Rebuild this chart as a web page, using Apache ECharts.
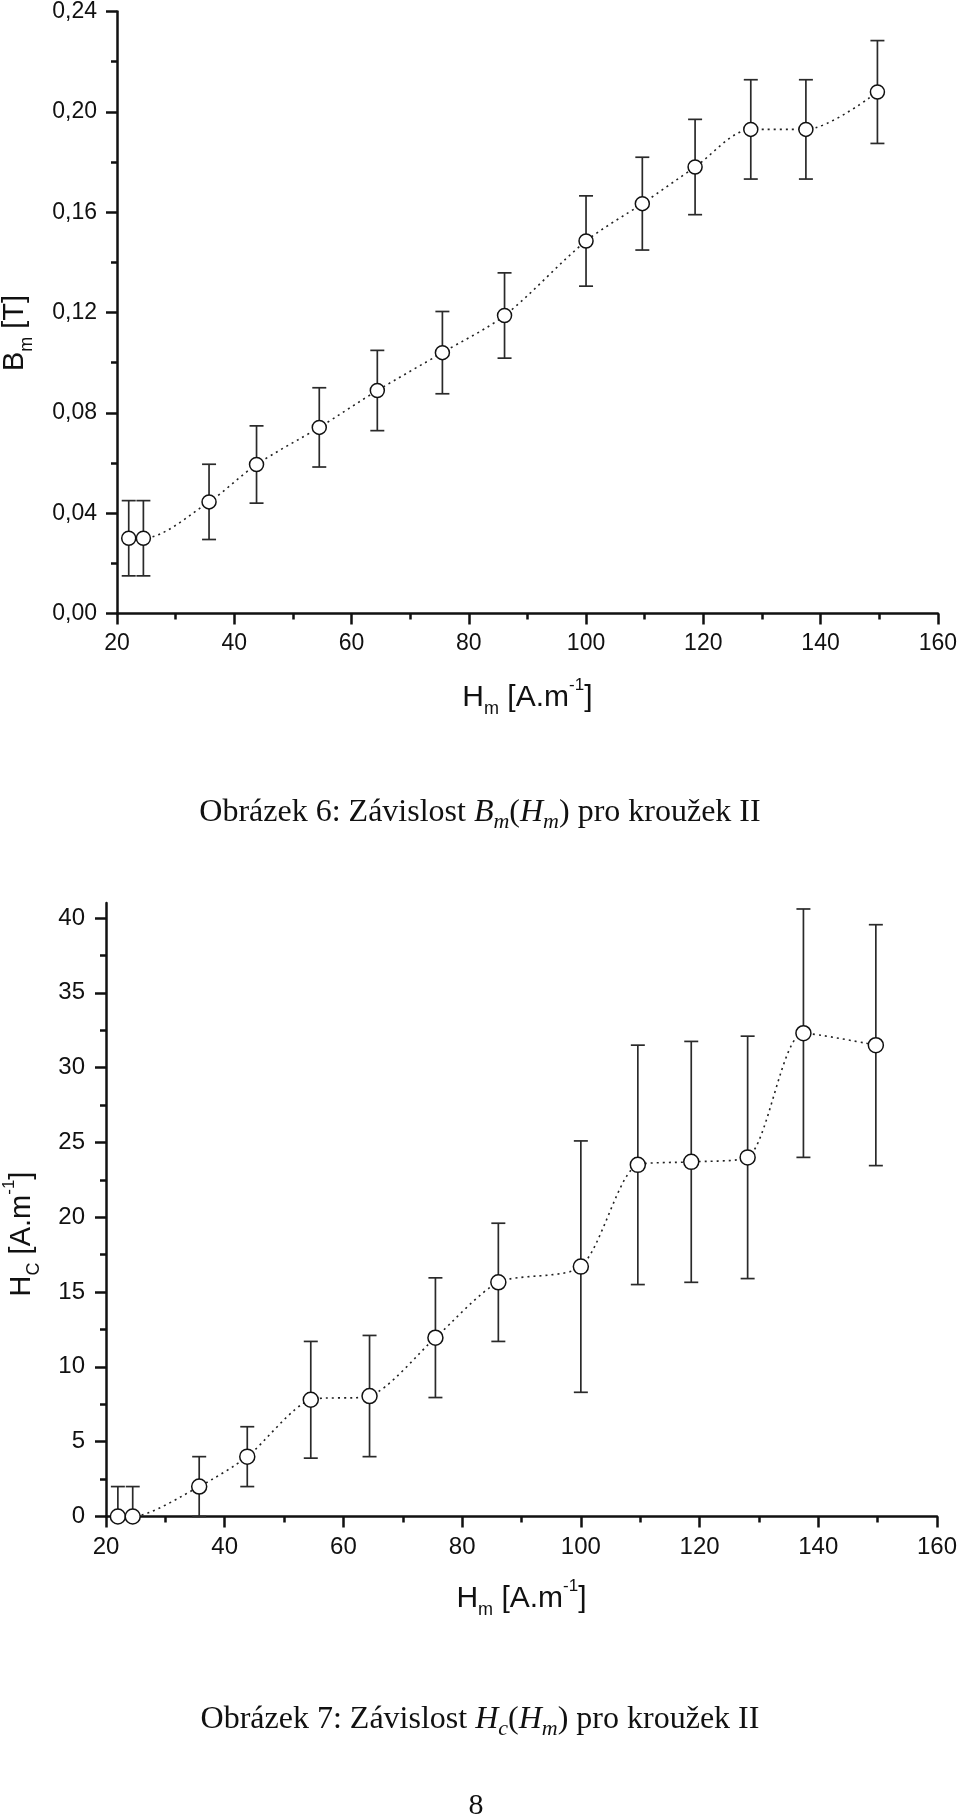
<!DOCTYPE html>
<html>
<head>
<meta charset="utf-8">
<script src="https://cdn.jsdelivr.net/npm/echarts@6/dist/echarts.min.js"></script>
<style>
  html, body { margin: 0; padding: 0; background: #fff; }
  #chart { width: 960px; height: 1819px; }
</style>
</head>
<body>
<div id="chart"></div>
<script>
// ---- data ----
const hm = [22.0, 24.5, 35.7, 43.8, 54.5, 64.4, 75.5, 86.1, 100.0, 109.6, 118.6, 128.1, 137.5, 149.7];
const bm = [0.030, 0.030, 0.0445, 0.0594, 0.0742, 0.0889, 0.104, 0.1188, 0.1485, 0.1634, 0.178, 0.193, 0.193, 0.2079];
const bmErr = [0.015, 0.015, 0.015, 0.0154, 0.0158, 0.016, 0.0164, 0.017, 0.018, 0.0185, 0.019, 0.0198, 0.0198, 0.0205];
const hc = [0, 0, 2.0, 4.0, 7.8, 8.05, 11.95, 15.65, 16.7, 23.5, 23.7, 24.0, 32.3, 31.5];
const hcErr = [2, 2, 2, 2, 3.9, 4.05, 4.0, 3.95, 8.4, 8.0, 8.05, 8.1, 8.3, 8.05];
const hcMajorTicks = [0, 5, 10, 15, 20, 25, 30, 35, 40];
const hcMinorTicks = [2.5, 7.5, 12.5, 17.5, 22.5, 27.5, 32.5, 37.5];
const caption1 = '{n|Obrázek 6: Závislost }{i|B}{s|m}{n|(}{i|H}{s|m}{n|) pro kroužek II}';
const caption2 = '{n|Obrázek 7: Závislost }{i|H}{s|c}{n|(}{i|H}{s|m}{n|) pro kroužek II}';
const xTitle = '{n|H}{s|m}{n| [A.m}{p|-1}{n|]}';
const y1Title = '{n|B}{s|m}{n| [T]}';
const y2Title = '{n|H}{s|C}{n| [A.m}{p|-1}{n|]}';

const INK = '#111';
const SANS = '"Liberation Sans", Arial, Helvetica, sans-serif';
const SERIF = '"Liberation Serif", "Times New Roman", serif';

const chart = echarts.init(document.getElementById('chart'), null, { renderer: 'canvas' });

const axisRich = {
  n: { fontSize: 30, lineHeight: 42, fontFamily: SANS, color: INK },
  s: { fontSize: 18, lineHeight: 8, verticalAlign: 'bottom', fontFamily: SANS, color: INK },
  p: { fontSize: 17, lineHeight: 32, verticalAlign: 'top', fontFamily: SANS, color: INK }
};
const gRich = {
  n: { fontSize: 29, lineHeight: 42, fontFamily: SANS, fill: INK },
  s: { fontSize: 18, lineHeight: 8, verticalAlign: 'bottom', fontFamily: SANS, fill: INK },
  p: { fontSize: 17, lineHeight: 32, verticalAlign: 'top', fontFamily: SANS, fill: INK }
};
const capRich = {
  n: { fontSize: 32, lineHeight: 40, fontFamily: SERIF, fill: INK },
  i: { fontSize: 32, lineHeight: 40, fontFamily: SERIF, fontStyle: 'italic', fill: INK },
  s: { fontSize: 22, lineHeight: 16, verticalAlign: 'bottom', fontFamily: SERIF, fontStyle: 'italic', fill: INK }
};

function errRender(params, api) {
  const x = api.value(0), v = api.value(1), e = api.value(2);
  const lowV = v - e;
  const top = api.coord([x, v + e]);
  const bot = api.coord([x, Math.max(lowV, 0)]);
  const cap = 7;
  const st = { stroke: '#2a2a2a', lineWidth: 1.7 };
  const children = [
    { type: 'line', shape: { x1: top[0], y1: top[1], x2: bot[0], y2: bot[1] }, style: st },
    { type: 'line', shape: { x1: top[0] - cap, y1: top[1], x2: top[0] + cap, y2: top[1] }, style: st }
  ];
  if (lowV >= 0) {
    children.push({ type: 'line', shape: { x1: bot[0] - cap, y1: bot[1], x2: bot[0] + cap, y2: bot[1] }, style: st });
  }
  return { type: 'group', children: children };
}

const axisLine = { show: true, onZero: false, lineStyle: { color: INK, width: 2.5 } };
const axisTick = { show: true, length: 11, lineStyle: { color: INK, width: 2.5 } };
const minorTick = { show: true, splitNumber: 2, length: 6, lineStyle: { color: INK, width: 2.5 } };

const option = {
  backgroundColor: '#fff',
  animation: false,
  grid: [
    { left: 117, top: 10, width: 822, height: 603.5 },
    { left: 106, top: 903, width: 832.3, height: 613.5 }
  ],
  xAxis: [
    {
      gridIndex: 0, type: 'value', min: 20, max: 160, interval: 20,
      axisLine: axisLine, axisTick: axisTick, minorTick: minorTick,
      splitLine: { show: false },
      axisLabel: { margin: 19, fontSize: 23, fontFamily: SANS, color: INK },
      name: xTitle, nameLocation: 'middle', nameGap: 63,
      nameTextStyle: { rich: axisRich }
    },
    {
      gridIndex: 1, type: 'value', min: 20, max: 160, interval: 20,
      axisLine: axisLine, axisTick: axisTick, minorTick: minorTick,
      splitLine: { show: false },
      axisLabel: { margin: 19, fontSize: 24, fontFamily: SANS, color: INK },
      name: xTitle, nameLocation: 'middle', nameGap: 61,
      nameTextStyle: { rich: axisRich }
    }
  ],
  yAxis: [
    {
      gridIndex: 0, type: 'value', min: 0, max: 0.24, interval: 0.04,
      axisLine: axisLine, axisTick: axisTick, minorTick: minorTick,
      splitLine: { show: false },
      axisLabel: {
        margin: 20, fontSize: 23, fontFamily: SANS, color: INK,
        formatter: v => v.toFixed(2).replace('.', ',')
      }
    },
    {
      gridIndex: 1, type: 'value', min: 0, max: 41, interval: 5, position: 'left',
      axisLine: axisLine,
      axisTick: Object.assign({}, axisTick, { customValues: hcMajorTicks }),
      splitLine: { show: false },
      axisLabel: { margin: 21, fontSize: 24, fontFamily: SANS, color: INK, customValues: hcMajorTicks }
    },
    {
      gridIndex: 1, type: 'value', min: 0, max: 41, position: 'left', offset: 0,
      axisLine: { show: false },
      axisTick: { show: true, length: 6, customValues: hcMinorTicks, lineStyle: { color: INK, width: 2.5 } },
      axisLabel: { show: false },
      splitLine: { show: false }
    }
  ],
  graphic: [
    { type: 'text', x: 15, y: 333, rotation: Math.PI / 2,
      style: { text: y1Title, rich: gRich, align: 'center', verticalAlign: 'middle' } },
    { type: 'text', x: 22, y: 1234, rotation: Math.PI / 2,
      style: { text: y2Title, rich: gRich, align: 'center', verticalAlign: 'middle' } },
    { type: 'text', x: 480, y: 813,
      style: { text: caption1, rich: capRich, align: 'center', verticalAlign: 'middle' } },
    { type: 'text', x: 480, y: 1720,
      style: { text: caption2, rich: capRich, align: 'center', verticalAlign: 'middle' } },
    { type: 'text', x: 476, y: 1806,
      style: { text: '8', font: '30px ' + SERIF, fill: INK, align: 'center', verticalAlign: 'middle' } }
  ],
  series: [
    {
      type: 'custom', xAxisIndex: 0, yAxisIndex: 0, z: 2,
      renderItem: errRender,
      encode: { x: 0, y: 1 },
      data: hm.map((x, i) => [x, bm[i], bmErr[i]])
    },
    {
      type: 'line', xAxisIndex: 0, yAxisIndex: 0, z: 3,
      smooth: 0.3,
      data: hm.map((x, i) => [x, bm[i]]),
      lineStyle: { color: '#222', width: 1.6, type: [2, 4] },
      symbol: 'circle', symbolSize: 14, showSymbol: true,
      itemStyle: { color: '#fff', borderColor: INK, borderWidth: 1.5 }
    },
    {
      type: 'custom', xAxisIndex: 1, yAxisIndex: 1, z: 2,
      renderItem: errRender,
      encode: { x: 0, y: 1 },
      data: hm.map((x, i) => [x, hc[i], hcErr[i]])
    },
    {
      type: 'line', xAxisIndex: 1, yAxisIndex: 1, z: 3,
      smooth: 0.25,
      data: hm.map((x, i) => [x, hc[i]]),
      lineStyle: { color: '#222', width: 1.6, type: [2, 4] },
      symbol: 'circle', symbolSize: 15, showSymbol: true,
      itemStyle: { color: '#fff', borderColor: INK, borderWidth: 1.5 }
    }
  ]
};
chart.setOption(option);
</script>
</body>
</html>
